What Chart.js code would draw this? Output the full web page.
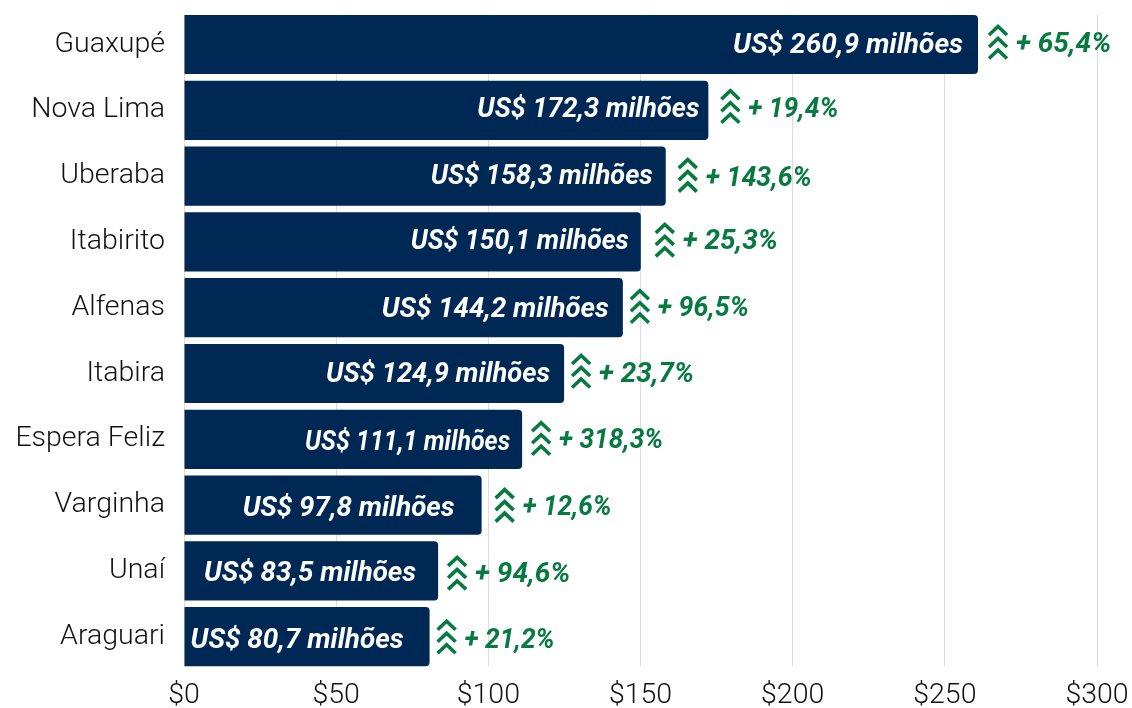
<!DOCTYPE html>
<html><head><meta charset="utf-8">
<style>html,body{margin:0;padding:0;background:#fff}canvas{display:block}</style>
<script src="https://cdn.jsdelivr.net/npm/chart.js@4"></script></head>
<body><canvas id="c" width="1132" height="708"></canvas>
<script>
const categories=["Guaxupé","Nova Lima","Uberaba","Itabirito","Alfenas","Itabira","Espera Feliz","Varginha","Unaí","Araguari"];
const values=[260.9,172.3,158.3,150.1,144.2,124.9,111.1,97.8,83.5,80.7];
const valueLabels=["US$ 260,9 milhões","US$ 172,3 milhões","US$ 158,3 milhões","US$ 150,1 milhões","US$ 144,2 milhões","US$ 124,9 milhões","US$ 111,1 milhões","US$ 97,8 milhões","US$ 83,5 milhões","US$ 80,7 milhões"];
const changeLabels=["+ 65,4%","+ 19,4%","+ 143,6%","+ 25,3%","+ 96,5%","+ 23,7%","+ 318,3%","+ 12,6%","+ 94,6%","+ 21,2%"];
const xTicks=[0,50,100,150,200,250,300];
// hand-placed annotation nudges, relative to each bar's end and centre
const labelGap=[15,9,13,12,14,14,12,27,22,26];
const iconGap=[10,12,12,14,7,7,9,13,9,7];
const labelDy=[-1.5,-3.3,-2,-2,-0.7,-1.5,0.7,1,1,1.3];
const changeDy=[-2.5,-3.3,0,-2,-1.7,-1.5,-1,0,2,1.3];
const iconDy=[-2.5,-4,-1,-2,-1.5,-2.5,-1,0,2,0];
const labelFit=[230,222,222,218,227,224,205,212,212,213];
const changeFit=[96,90,106,95,91,95,104,89,96,90];
const NAVY="#002855",GREEN="#067a41";
const annotate={id:"annotate",
 beforeDatasetsDraw(ch){
  const m=ch.getDatasetMeta(0).data,c=ch.ctx,a=ch.chartArea;
  const h=m[0].height/2;
  c.save();c.fillStyle="#fff";
  c.fillRect(a.left-1,a.top-1,a.width+40,m[0].y-h-a.top+1);
  c.fillRect(a.left-1,m[9].y+h,a.width+40,a.bottom-m[9].y-h+1);
  c.restore();
 },
 afterDatasetsDraw(ch){
  const c=ch.ctx,m=ch.getDatasetMeta(0).data;
  const baseFix=2.5;
  m.forEach((b,i)=>{
   c.save();
   c.textBaseline="middle";
   c.font='italic 700 28px Roboto';
   c.fillStyle="#fff";c.textAlign="right";
   c.fillText(valueLabels[i],b.x-labelGap[i],b.y+labelDy[i]+baseFix,labelFit[i]);
   const ix=b.x+iconGap[i],w=20,cx=ix+w/2,iy=b.y+iconDy[i];
   c.strokeStyle=GREEN;c.lineWidth=3.6;c.lineJoin="miter";
   for(const dy of [-15.5,-3.5,8]){
    c.beginPath();c.moveTo(ix+1,iy+dy+8.5);c.lineTo(cx,iy+dy);c.lineTo(ix+w-1,iy+dy+8.5);c.stroke();
   }
   c.fillStyle=GREEN;c.textAlign="left";
   c.fillText(changeLabels[i],ix+28,b.y+changeDy[i]+baseFix,changeFit[i]);
   c.restore();
  });
 }};
new Chart(document.getElementById("c"),{
 type:"bar",
 data:{labels:categories,datasets:[{data:values,backgroundColor:NAVY,borderColor:NAVY,borderWidth:0,
  barPercentage:0.9,categoryPercentage:1,borderSkipped:"left",borderRadius:{topRight:4,bottomRight:4,topLeft:0,bottomLeft:0}}]},
 plugins:[annotate],
 options:{indexAxis:"y",responsive:false,animation:false,
  layout:{padding:{top:11.6,right:35,left:0,bottom:0}},
  plugins:{legend:{display:false},tooltip:{enabled:false}},
  scales:{
   x:{min:0,max:300,afterBuildTicks(s){s.ticks=xTicks.map(v=>({value:v}))},
    afterFit(s){s.height=38.4;s.paddingRight=0;s.paddingLeft=0},
    grid:{color:"#dcdcdc",lineWidth:1,drawTicks:false},border:{display:false},
    ticks:{padding:9,maxRotation:0,color:"#111",font:{family:"Roboto",weight:"300",size:28.5},callback:v=>"$"+v}},
   y:{afterFit(s){s.width=184;s.paddingTop=0;s.paddingBottom=0},grid:{display:false},border:{display:false},
    ticks:{padding:11,labelOffset:0,color:"#111",font:{family:"Roboto",weight:"300",size:28.5}}}
  }}
});
</script></body></html>
